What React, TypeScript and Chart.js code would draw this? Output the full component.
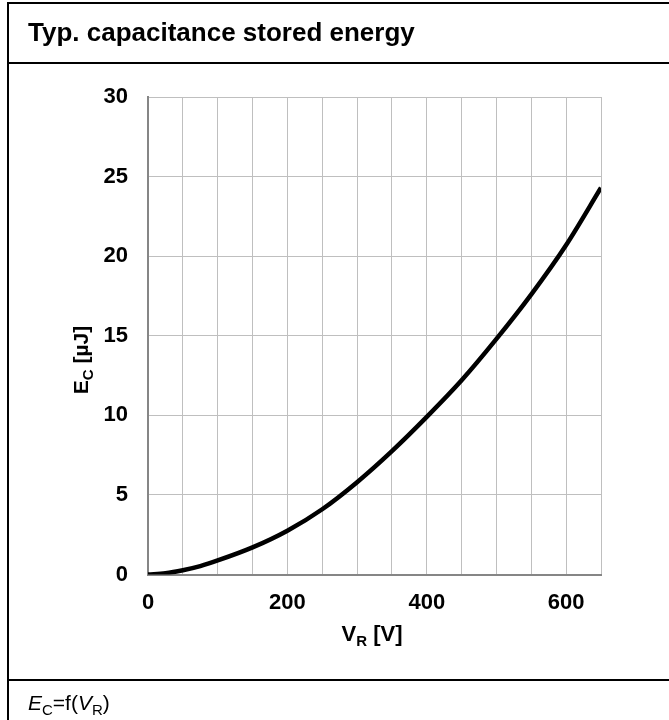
import React, { useEffect, useRef } from "react";
import { Chart, registerables } from "chart.js";

Chart.register(...registerables);

// Reverse voltage V_R [V]
const voltages = [0, 25, 50, 75, 100, 150, 200, 250, 300, 350, 400, 450, 500, 550, 600, 650];
// Stored energy E_C [µJ]
const energies = [0, 0.08, 0.27, 0.53, 0.88, 1.7, 2.75, 4.1, 5.8, 7.75, 9.9, 12.2, 14.8, 17.6, 20.7, 24.3];
// Axis settings
const xMin = 0;
const xMax = 650;
const xGridStep = 50;
const xLabelStep = 200;
const yMin = 0;
const yMax = 30;
const yStep = 5;

const FONT = '"Liberation Sans", Arial, Helvetica, sans-serif';

export default function App() {
  const canvasRef = useRef<HTMLCanvasElement | null>(null);

  useEffect(() => {
    const canvas = canvasRef.current;
    if (!canvas) return;
    const chart = new Chart(canvas, {
      type: "line",
      data: {
        datasets: [
          {
            data: voltages.map((v, i) => ({ x: v, y: energies[i] })),
            borderColor: "#000000",
            borderWidth: 4.5,
            pointRadius: 0,
            fill: false,
            cubicInterpolationMode: "monotone",
          },
        ],
      },
      options: {
        animation: false,
        responsive: false,
        maintainAspectRatio: false,
        devicePixelRatio: 1,
        layout: { padding: { left: 88, top: 97, right: 68, bottom: 105.5 } },
        plugins: { legend: { display: false }, tooltip: { enabled: false }, title: { display: false } },
        scales: {
          x: {
            type: "linear",
            min: xMin,
            max: xMax,
            afterFit: (scale: any) => {
              scale.height = 40;
            },
            ticks: {
              stepSize: xGridStep,
              autoSkip: false,
              maxRotation: 0,
              padding: 15,
              color: "#000000",
              font: { family: FONT, size: 22, weight: "bold" },
              callback: (v: any) => (Number(v) % xLabelStep === 0 ? String(v) : ""),
            },
            grid: { color: "#bfbfbf", lineWidth: 1, drawTicks: false },
            border: { color: "#868686", width: 2 },
          },
          y: {
            type: "linear",
            min: yMin,
            max: yMax,
            afterFit: (scale: any) => {
              scale.width = 60;
            },
            ticks: {
              stepSize: yStep,
              padding: 20,
              color: "#000000",
              font: { family: FONT, size: 22, weight: "bold" },
            },
            grid: { color: "#bfbfbf", lineWidth: 1, drawTicks: false },
            border: { color: "#868686", width: 2 },
          },
        },
      },
    });
    return () => chart.destroy();
  }, []);

  const sub = (t: string, size: number) => (
    <span style={{ fontSize: size, fontStyle: "normal", position: "relative", top: "0.3em" }}>{t}</span>
  );

  return (
    <div
      style={{
        position: "absolute",
        left: 0,
        top: 0,
        width: 669,
        height: 720,
        overflow: "hidden",
        background: "#ffffff",
        fontFamily: FONT,
        color: "#000",
      }}
    >
      <canvas ref={canvasRef} width={669} height={720} style={{ position: "absolute", left: 0, top: 0, width: 669, height: 720 }} />
      {/* frame */}
      <div style={{ position: "absolute", left: 7, top: 2, width: 700, height: 800, border: "2px solid #000", boxSizing: "border-box" }} />
      <div style={{ position: "absolute", left: 7, top: 62, width: 700, height: 2, background: "#000" }} />
      <div style={{ position: "absolute", left: 7, top: 679, width: 700, height: 2, background: "#000" }} />
      {/* title */}
      <div style={{ position: "absolute", left: 28, top: 32, transform: "translateY(-50%)", fontSize: 26, fontWeight: "bold", whiteSpace: "nowrap", lineHeight: 1 }}>
        Typ. capacitance stored energy
      </div>
      {/* y axis title */}
      <div
        style={{
          position: "absolute",
          left: 80,
          top: 360,
          transform: "translate(-50%, -50%) rotate(-90deg)",
          fontSize: 21,
          fontWeight: "bold",
          whiteSpace: "nowrap",
          lineHeight: 1,
        }}
      >
        E{sub("C", 15)} [µJ]
      </div>
      {/* x axis title */}
      <div
        style={{
          position: "absolute",
          left: 372,
          top: 634,
          transform: "translate(-50%, -50%)",
          fontSize: 22,
          fontWeight: "bold",
          whiteSpace: "nowrap",
          lineHeight: 1,
        }}
      >
        V{sub("R", 15)} [V]
      </div>
      {/* footer */}
      <div style={{ position: "absolute", left: 28, top: 702, transform: "translateY(-50%)", fontSize: 21, whiteSpace: "nowrap", lineHeight: 1 }}>
        <i>E</i>
        {sub("C", 15)}=f(<i>V</i>
        {sub("R", 15)})
      </div>
    </div>
  );
}
